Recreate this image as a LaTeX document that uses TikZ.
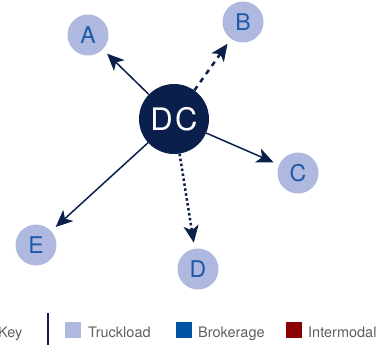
\documentclass[tikz,border=0pt]{standalone}
\usepackage{fontspec}
\setmainfont{TeX Gyre Heros}
\usetikzlibrary{arrows.meta}
\definecolor{navy}{HTML}{0B1F4C}
\definecolor{lightb}{HTML}{AFB8DE}
\definecolor{letterb}{HTML}{1C5AA8}
\definecolor{brok}{HTML}{0054A6}
\definecolor{inter}{HTML}{8B0000}
\definecolor{keygray}{HTML}{5F5F5F}
\tikzset{
  dest/.style={circle, fill=lightb, minimum size=41pt, inner sep=0pt, text=letterb, font=\fontsize{23}{23}\selectfont},
  hub/.style={circle, fill=navy, minimum size=70pt, inner sep=0pt, text=white, font=\fontsize{31}{31}\selectfont},
  flow/.style={navy, line width=1.5pt, -{Stealth[length=17pt,width=15pt,inset=4.5pt]}, shorten >=6pt},
  keytext/.style={anchor=base west, text=keygray, font=\fontsize{14.5}{14.5}\selectfont, inner sep=0pt},
  keysq/.style={minimum size=16pt, inner sep=0pt}
}
\begin{document}
\begin{tikzpicture}[x=1pt,y=-1pt]
\useasboundingbox (0,0) rectangle (380,345);
\node[hub] (dc) at (174,119) {D\hspace{2.5pt}C};
\node[dest] (a) at (88,35) {A};
\node[dest] (b) at (243,22) {B};
\node[dest] (c) at (298,173) {C};
\node[dest] (d) at (198,269) {D};
\node[dest] (e) at (36,245) {E};
\draw[flow] (dc) -- (a);
\draw[flow, dash pattern=on 5pt off 5pt, line width=2.5pt] (dc) -- (b);
\draw[flow] (dc) -- (c);
\draw[flow, dash pattern=on 2.5pt off 2.5pt, line width=2.5pt] (dc) -- (d);
\draw[flow] (dc) -- (e);
% legend
\node[keytext] (key) at (-2,337) {Key};
\coordinate (lt) at (48,313);
\coordinate (lb) at (48,345);
\draw[navy, line width=1.5pt] (lt) -- (lb);
\node[keysq, fill=lightb] (sq1) at (73,330) {};
\node[keytext] (t1) at (88,337) {Truckload};
\node[keysq, fill=brok] (sq2) at (183.5,330) {};
\node[keytext] (t2) at (198,337) {Brokerage};
\node[keysq, fill=inter] (sq3) at (293.5,330) {};
\node[keytext] (t3) at (308,337) {Intermodal};
\end{tikzpicture}
\end{document}
